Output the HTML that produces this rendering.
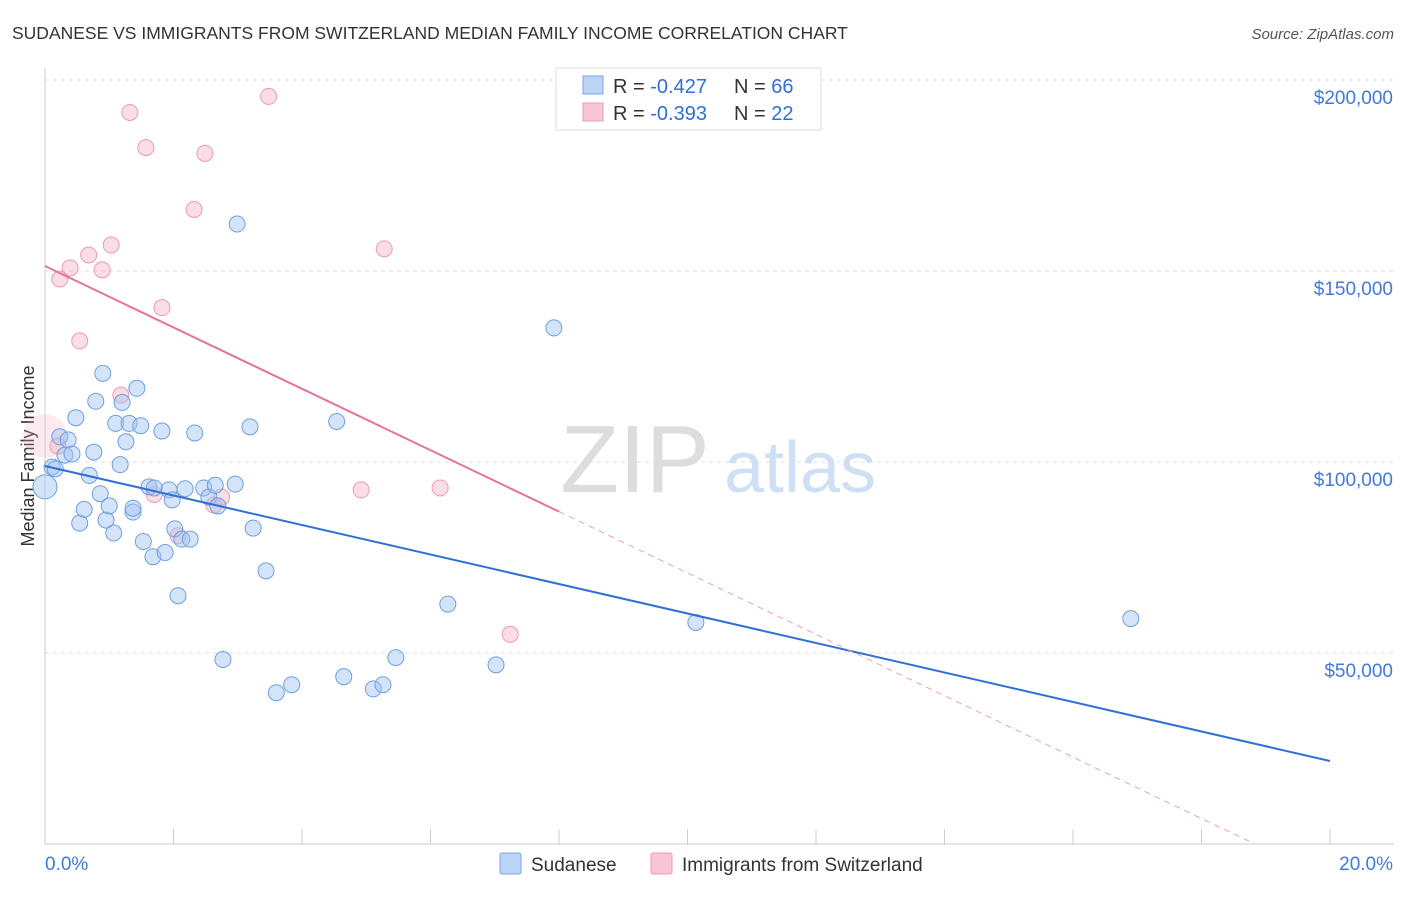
<!DOCTYPE html>
<html><head><meta charset="utf-8"><style>
body{margin:0;background:#fff;font-family:"Liberation Sans",sans-serif;}
svg text{font-family:"Liberation Sans",sans-serif;}
</style></head><body>
<svg id="c" width="1406" height="892">
<text x="12" y="39" font-size="17.5" fill="#333">SUDANESE VS IMMIGRANTS FROM SWITZERLAND MEDIAN FAMILY INCOME CORRELATION CHART</text>
<text x="1394" y="39" font-size="15" fill="#555" text-anchor="end" font-style="italic">Source: ZipAtlas.com</text>
<text x="635" y="492" font-size="96" fill="#ddd" font-family="Liberation Serif" text-anchor="middle">ZIP</text>
<text x="800" y="492" font-size="72" fill="#cfe0f5" text-anchor="middle">atlas</text>
<text transform="translate(34,456) rotate(-90)" font-size="18" fill="#333" text-anchor="middle">Median Family Income</text>
<g id="grid"></g><g id="marks"></g>
<g>
<rect x="556" y="68" width="265" height="62" fill="#fff" stroke="#ddd"/>
<rect x="583" y="76" width="20" height="18" fill="#bcd4f5" stroke="#7aa6e6"/>
<rect x="583" y="103" width="20" height="18" fill="#f9c6d6" stroke="#ef9ab4"/>
<text x="613" y="93" font-size="20" fill="#333">R = <tspan fill="#2f6fd6">-0.427</tspan></text>
<text x="734" y="93" font-size="20" fill="#333">N = <tspan fill="#2f6fd6">66</tspan></text>
<text x="613" y="120" font-size="20" fill="#333">R = <tspan fill="#2f6fd6">-0.393</tspan></text>
<text x="734" y="120" font-size="20" fill="#333">N = <tspan fill="#2f6fd6">22</tspan></text>
</g>
<g>
<rect x="500" y="853" width="21" height="21" fill="#bcd4f5" stroke="#7aa6e6" rx="2"/>
<text x="531" y="871" font-size="19" fill="#333">Sudanese</text>
<rect x="651" y="853" width="21" height="21" fill="#f9c6d6" stroke="#ef9ab4" rx="2"/>
<text x="682" y="871" font-size="19" fill="#333">Immigrants from Switzerland</text>
</g>
</svg>
<script>
const yTicks=[50000,100000,150000,200000];
const yTickLabels=["$50,000","$100,000","$150,000","$200,000"];
const xTicks=[0,2,4,6,8,10,12,14,16,18,20];
const sudX=[0,0.11,0.16,0.23,0.36,0.31,0.42,0.48,0.54,0.61,0.69,0.76,0.79,0.86,0.9,0.95,1.0,1.07,1.1,1.17,1.2,1.26,1.31,1.37,1.37,1.43,1.49,1.53,1.62,1.68,1.7,1.82,1.87,1.93,1.98,2.02,2.07,2.13,2.18,2.26,2.33,2.47,2.55,2.65,2.69,2.77,2.96,2.99,3.19,3.24,3.44,3.6,3.84,4.54,4.65,5.11,5.26,5.46,6.27,7.02,7.92,10.13,16.9];
const sudY=[93500,98700,98200,106600,105800,101800,102100,111600,84000,87600,96500,102600,115900,91700,123200,84800,88500,81400,110100,99300,115600,105300,110100,86900,87900,119300,109500,79200,93500,75200,93200,108100,76300,92700,90100,82500,65000,79800,93000,79800,107600,93200,90800,93900,88500,48300,94200,162300,109200,82700,71500,39600,41700,110600,43800,40600,41700,48800,62800,46900,135100,58000,59000];
const swX=[0,0.2,0.23,0.39,0.54,0.68,0.89,1.03,1.18,1.32,1.57,1.70,1.82,2.07,2.32,2.49,2.63,2.75,3.48,4.92,5.28,6.15,7.24];
const swY=[106800,104200,147900,150800,131700,154200,150300,156800,117500,191500,182300,91500,140400,80700,166100,180800,88700,90800,195700,92700,155800,93200,54900];
const sudTrend=[98950,21730];
const swTrend=[151300,-9400];
const X=v=>45+v*1285/20, Y=v=>462-(v-100000)*191/50000;
const NS="http://www.w3.org/2000/svg";
function mk(t,a,p){const e=document.createElementNS(NS,t);for(const k in a)e.setAttribute(k,a[k]);p.appendChild(e);return e;}
const g=document.getElementById('grid'),m=document.getElementById('marks');
yTicks.forEach((v,i)=>{const l=mk('line',{x1:45,x2:1394,y1:Y(v),y2:Y(v),stroke:'#ddd','stroke-dasharray':'4,4'},g);


const t=mk('text',{x:1393,y:Y(v)+24,'font-size':19,fill:'#3f7ad8','text-anchor':'end'},g);t.textContent=yTickLabels[i];

});
mk('line',{x1:45,x2:45,y1:68,y2:844,stroke:'#ccc'},g);
mk('line',{x1:45,x2:1394,y1:844,y2:844,stroke:'#ccc'},g);
xTicks.forEach(v=>{const l=mk('line',{x1:X(v),x2:X(v),y1:829,y2:844,stroke:'#ccc'},g);

});
const t0=mk('text',{x:45,y:870,'font-size':19,fill:'#3f7ad8'},g);t0.textContent='0.0%';


const t1=mk('text',{x:1393,y:870,'font-size':19,fill:'#3f7ad8','text-anchor':'end'},g);t1.textContent='20.0%';


swX.forEach((x,i)=>{const c=mk('circle',{cx:X(x),cy:Y(swY[i]),r:i==0?22:8,fill:i==0?'rgba(245,170,195,0.25)':'rgba(245,170,195,0.4)',stroke:i==0?'none':'#eb9ab3','stroke-width':1},m);

});
sudX.forEach((x,i)=>{const c=mk('circle',{cx:X(x),cy:Y(sudY[i]),r:i==0?12:8,fill:'rgba(160,195,240,0.45)',stroke:'#6f9fe0','stroke-width':1},m);

});
const bl=mk('line',{x1:X(0),y1:Y(sudTrend[0]),x2:X(20),y2:Y(sudTrend[1]),stroke:'#2f6fd6','stroke-width':2},m);


const sw=v=>swTrend[0]+(swTrend[1]-swTrend[0])*v/20;
const pl=mk('line',{x1:X(0),y1:Y(sw(0)),x2:X(8),y2:Y(sw(8)),stroke:'#e8709a','stroke-width':2},m);


const xz=-swTrend[0]/(swTrend[1]-swTrend[0])*20;
const pd=mk('line',{x1:X(8),y1:Y(sw(8)),x2:X(xz),y2:Y(0),stroke:'#e8a0b8','stroke-width':1,'stroke-dasharray':'6,5'},m);


</script>
</body></html>
